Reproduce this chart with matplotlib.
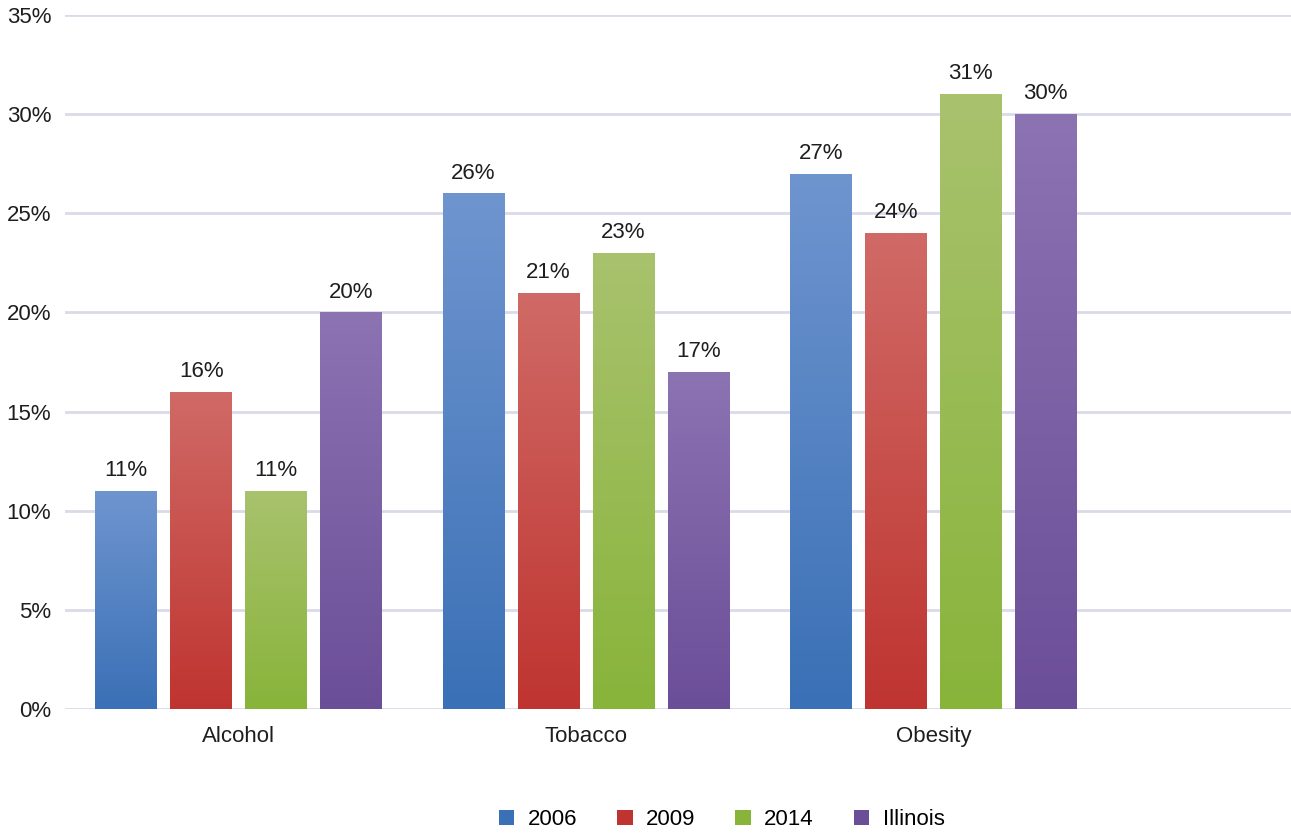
import numpy as np
import matplotlib
matplotlib.use('Agg')
from matplotlib import pyplot as plt
from matplotlib.colors import LinearSegmentedColormap
from matplotlib.patches import Patch

categories = ['Alcohol', 'Tobacco', 'Obesity']
series = ['2006', '2009', '2014', 'Illinois']
values = [
    [11, 26, 27],   # 2006
    [16, 21, 24],   # 2009
    [11, 23, 31],   # 2014
    [20, 17, 30],   # Illinois
]
# (top colour, bottom colour) for the gradient fill
colors = [
    ('#6f95cf', '#3a70b6'),
    ('#d06a66', '#bf3430'),
    ('#a9c26e', '#88b43a'),
    ('#8c73b2', '#6b4e98'),
]

plt.rcParams['font.family'] = ['Liberation Sans Narrow', 'Liberation Sans', 'DejaVu Sans']

fig = plt.figure(figsize=(12.91, 8.35), dpi=100)
ax = fig.add_axes([65 / 1291, 126 / 835, 1 - 65 / 1291, (709 - 15) / 835])

x = np.arange(len(categories))
width = 0.178
step = 0.216

for i, s in enumerate(series):
    pos = x + (i - 1.5) * step
    bars = ax.bar(pos, values[i], width, color=colors[i][1], zorder=2, label=s)
    cmap = LinearSegmentedColormap.from_list('g%d' % i, [colors[i][1], colors[i][0]])
    grad = np.linspace(0, 1, 256).reshape(-1, 1)
    for b, v in zip(bars, values[i]):
        b.set_facecolor('none')
        b.set_edgecolor('none')
        im = ax.imshow(grad, cmap=cmap, origin='lower', aspect='auto',
                       extent=[b.get_x(), b.get_x() + b.get_width(), 0, v], zorder=2)
        im.set_clip_path(b)
        ax.text(b.get_x() + b.get_width() / 2, v + 0.5, '%d%%' % v,
                ha='center', va='bottom', fontsize=16, color='#1e1e1e')

ax.set_xlim(-0.5, 3.03)
ax.set_ylim(0, 35)
ax.set_yticks(np.arange(0, 36, 5))
ax.set_yticklabels(['%d%%' % t for t in range(0, 36, 5)])
ax.set_xticks(x)
ax.set_xticklabels(categories)
ax.tick_params(axis='both', length=0, labelsize=16, colors='#1e1e1e')
ax.tick_params(axis='x', pad=12)
ax.tick_params(axis='y', pad=10)
ax.grid(axis='y', color='#dadbe8', linewidth=2, zorder=0)
ax.set_axisbelow(True)
for sp in ax.spines.values():
    sp.set_visible(False)

handles = [Patch(facecolor=colors[i][1], edgecolor='none') for i in range(len(series))]
fig.legend(handles, series, loc='center', bbox_to_anchor=(0.559, 0.018), ncol=4,
           frameon=False, fontsize=16, handlelength=0.7, handleheight=0.7,
           columnspacing=1.8, handletextpad=0.6)

fig.savefig('out.png', dpi=100)
